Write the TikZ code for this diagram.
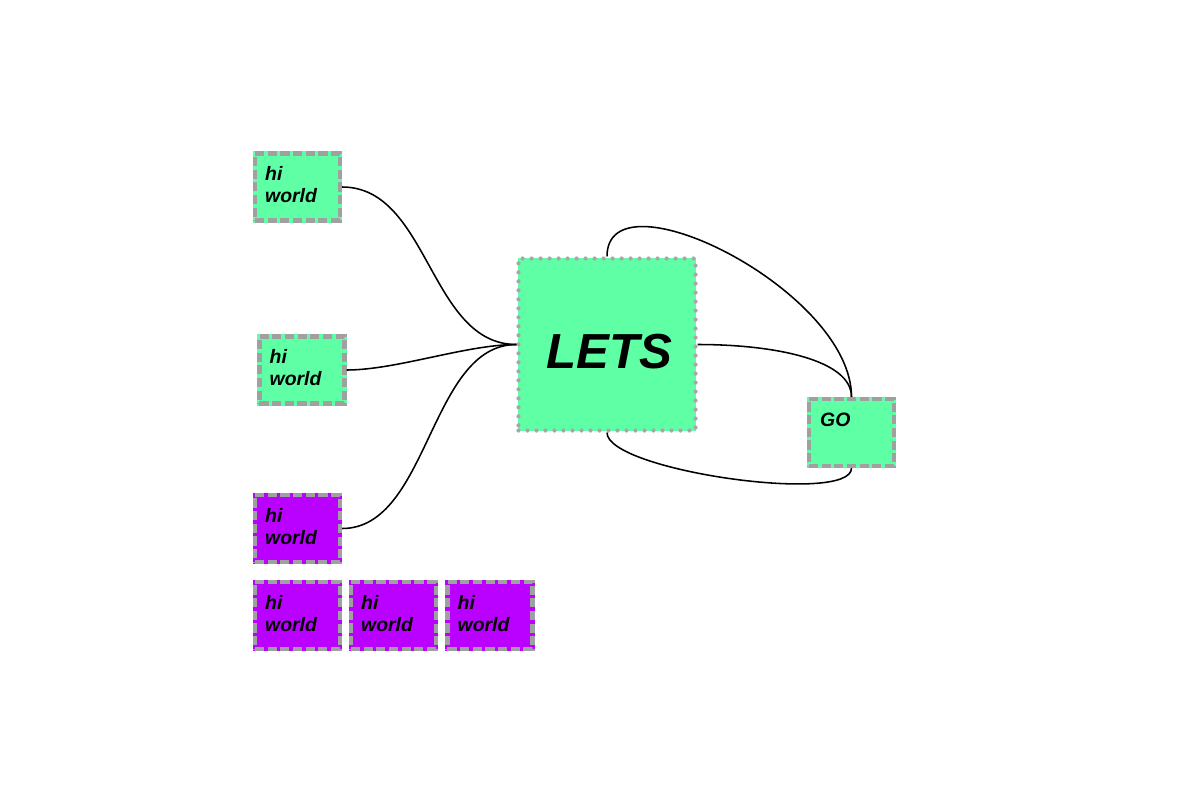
\documentclass[tikz,border=0pt]{standalone}
\usepackage{fontspec}
\setmainfont{Liberation Sans}
\usetikzlibrary{positioning}
\definecolor{mint}{RGB}{94,255,165}
\definecolor{grape}{RGB}{186,0,255}
\definecolor{edgegray}{RGB}{160,160,160}
\definecolor{dotgray}{RGB}{172,164,172}

\begin{document}
\begin{tikzpicture}[x=0.025cm,y=-0.025cm,
  hw/.style={rectangle,inner sep=0pt,minimum width=2.125cm,minimum height=1.675cm,
    line width=3pt,draw=edgegray,dash pattern=on 6.5pt off 2.5pt,
    preaction={draw=#1,fill=#1,solid}},
  hw/.default=mint,
  bigbox/.style={rectangle,inner sep=0pt,minimum width=4.425cm,minimum height=4.3cm,
    fill=mint,draw=dotgray,line width=3pt,line cap=round,dash pattern=on 0pt off 6.4pt},
  tx/.style={anchor=north west,inner sep=0pt,align=left,
    font=\fontsize{13.8}{15.6}\selectfont\bfseries\itshape},
  link/.style={line width=1.1pt}]
 \useasboundingbox (0,0) rectangle (1200,796);
 % boxes
 \node[hw] (hw1) at (297.5,187) {};
 \node[hw] (hw2) at (302,370) {};
 \node[hw=grape] (hw3) at (297.5,528.5) {};
 \foreach \i/\x in {1/297.5,2/393.5,3/490}{
   \node[hw=grape] (r\i) at (\x,615.5) {};
   \node[tx] at ([shift={(12,15)}]r\i.north west) {hi\\world};}
 \foreach \i in {1,2,3}
   \node[tx] at ([shift={(12,15)}]hw\i.north west) {hi\\world};
 \node[bigbox] (lets) at (607,344.5) {};
 \node[font=\fontsize{35}{40}\selectfont\bfseries\itshape,inner sep=0pt]
   at ([shift={(2,7.5)}]lets.center) {LETS};
 \node[hw] (go) at (851.5,432.5) {};
 \node[tx] at ([shift={(13,16)}]go.north west) {GO};
 % links
 \draw[link] (hw1.east) .. controls +(87,0) and +(-87,0) .. (lets.west);
 \draw[link] (hw2.east) .. controls +(50,0) and +(-50,0) .. (lets.west);
 \draw[link] (hw3.east) .. controls +(87,0) and +(-87,0) .. (lets.west);
 \draw[link] (lets.north) .. controls +(0,-87) and +(0,-107) .. (go.north);
 \draw[link] (lets.east) .. controls +(77,0) and +(0,-37) .. (go.north);
 \draw[link] (lets.south) .. controls +(0,38) and +(0,37) .. (go.south);
\end{tikzpicture}
\end{document}
